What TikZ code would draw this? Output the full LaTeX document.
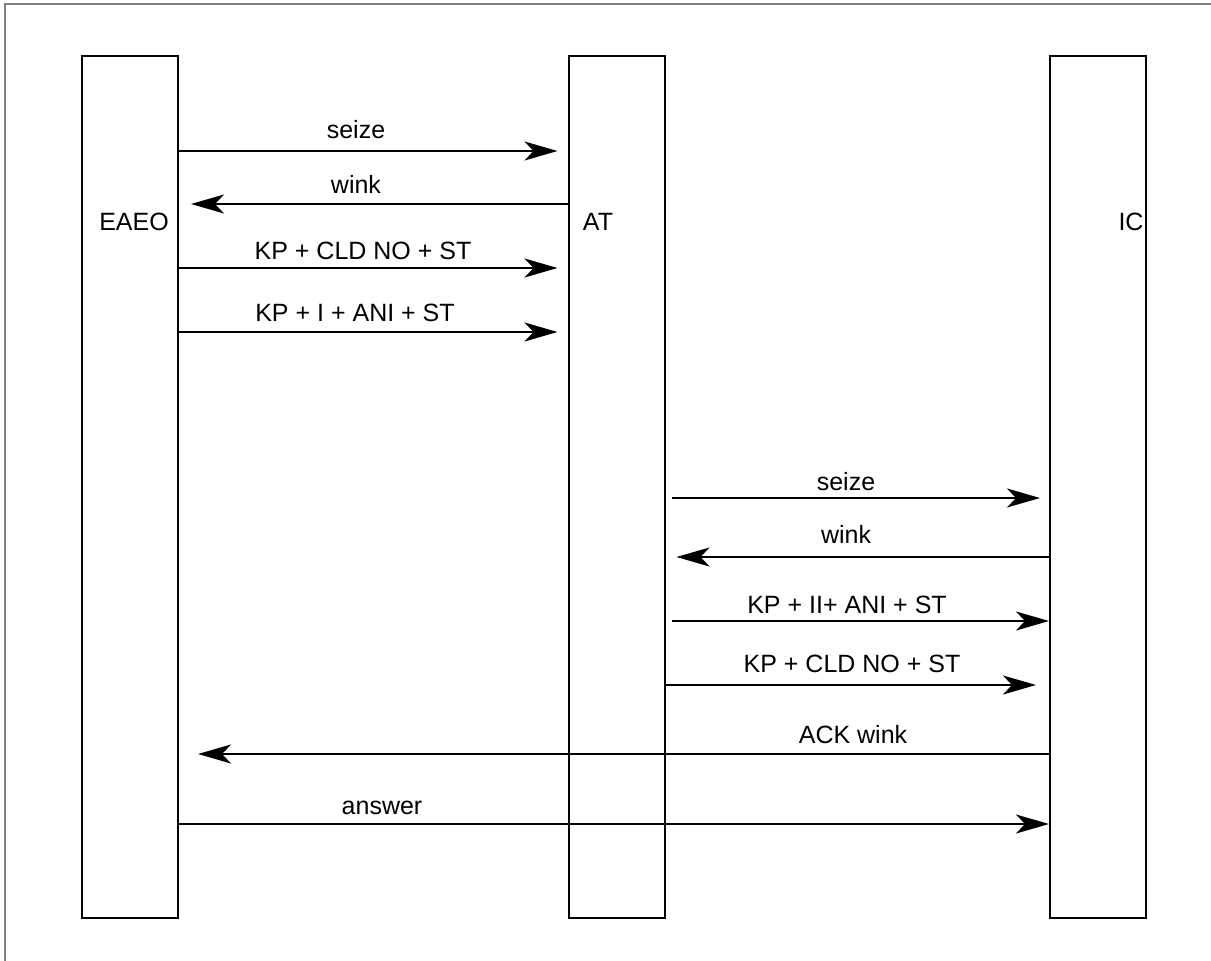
\documentclass[tikz,border=0pt]{standalone}
\usepackage{fontspec}
\setmainfont{Liberation Sans}
\usetikzlibrary{arrows.meta,calc}
\begin{document}
\begin{tikzpicture}[x=1pt,y=-1pt,
  lifebox/.style={draw,line width=2pt,rectangle,inner sep=0pt,minimum width=96pt,minimum height=862pt},
  msg/.style={line width=2pt,-{Stealth[length=33pt,width=19pt,inset=9pt]}},
  lbl/.style={font=\fontsize{25}{30}\selectfont,anchor=base,inner sep=0pt}]
\useasboundingbox (0,0) rectangle (1211,961);
\draw[gray,line width=1.2pt] (5,961) coordinate (fb) -- (5,4) coordinate (fc) -- (1211,4) coordinate (fr);
% lifelines
\node[lifebox] (eaeo) at (130,486.5) {};
\node[lifebox] (at) at (616.5,486.5) {};
\node[lifebox] (ic) at (1098,486.5) {};
\node[lbl] (teaeo) at (134,230) {EAEO};
\node[lbl] (tat) at (598,230) {AT};
\node[lbl] (tic) at (1131,230) {IC};
% messages
\draw[msg,shorten >=10pt] (eaeo.east |- 0,151) -- (at.west |- 0,151);
\node[lbl] (l1) at (356,138) {seize};
\draw[msg,shorten >=12pt] (at.west |- 0,204) -- (eaeo.east |- 0,204);
\node[lbl] (l2) at (356,193) {wink};
\draw[msg,shorten >=10pt] (eaeo.east |- 0,268) -- (at.west |- 0,268);
\node[lbl] (l3) at (363,259) {KP + CLD NO + ST};
\draw[msg,shorten >=10pt] (eaeo.east |- 0,332) -- (at.west |- 0,332);
\node[lbl] (l4) at (355,321) {KP + I + ANI + ST};
\draw[msg,shorten <=6pt,shorten >=9pt] (at.east |- 0,498) -- (ic.west |- 0,498);
\node[lbl] (l5) at (846,490) {seize};
\draw[msg,shorten >=11pt] (ic.west |- 0,557) -- (at.east |- 0,557);
\node[lbl] (l6) at (846,543) {wink};
\draw[msg,shorten <=6pt] (at.east |- 0,621) -- (ic.west |- 0,621);
\node[lbl] (l7) at (847,613) {KP + II+ ANI + ST};
\draw[msg,shorten >=13pt] (at.east |- 0,685) -- (ic.west |- 0,685);
\node[lbl] (l8) at (852,672) {KP + CLD NO + ST};
\draw[msg,shorten >=19pt] (ic.west |- 0,754) -- (eaeo.east |- 0,754);
\node[lbl] (l9) at (853,743) {ACK wink};
\draw[msg] (eaeo.east |- 0,824) -- (ic.west |- 0,824);
\node[lbl] (l10) at (382,814) {answer};
\end{tikzpicture}
\end{document}
